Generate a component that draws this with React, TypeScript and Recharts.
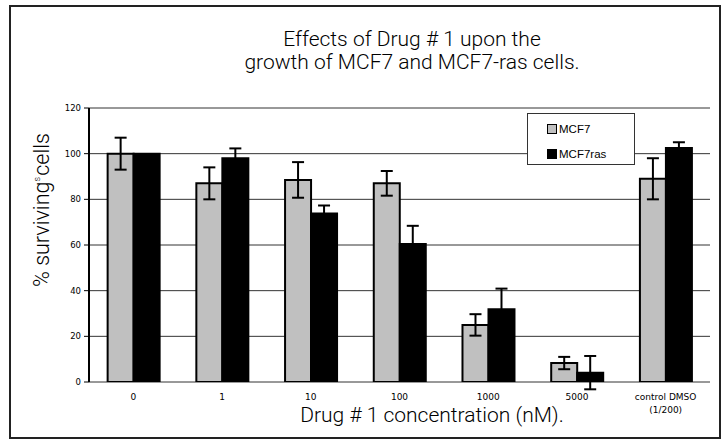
import React from "react"
import { Bar, BarChart, CartesianGrid, ErrorBar, Legend, XAxis, YAxis } from "recharts"

const categories = ["0", "1", "10", "100", "1000", "5000", "control DMSO\n(1/200)"]
const mcf7 = [100, 87, 88.5, 87, 25, 8.3, 89]
const mcf7Err = [7, 7, 7.8, 5.4, 4.7, 2.7, 9]
const mcf7ras = [100, 98, 73.8, 60.4, 31.9, 4.1, 102.5]
const mcf7rasErr = [0, 4.3, 3.5, 8, 9, 7.3, 2.5]
const yTicks = [0, 20, 40, 60, 80, 100, 120]
const boundaryTicks = [0, 1, 2, 3, 4, 5, 6, 7]

const data = categories.map((name, i) => ({
  name,
  mcf7: mcf7[i],
  mcf7Err: mcf7Err[i],
  mcf7ras: mcf7ras[i],
  mcf7rasErr: mcf7rasErr[i],
}))

const tickFont = "'DejaVu Sans', sans-serif"
const titleFont = "Roboto, 'Liberation Sans', sans-serif"

function CategoryTick(props: any) {
  const { x, y, payload } = props
  const lines = String(payload.value).split("\n")
  return (
    <text x={x} y={y} textAnchor="middle" fontFamily={tickFont} fontSize={9} fill="#000">
      {lines.map((l, i) => (
        <tspan key={i} x={x} dy={i === 0 ? 10 : 13}>
          {l}
        </tspan>
      ))}
    </text>
  )
}

function LegendBox() {
  const items = [
    { label: "MCF7", fill: "#C0C0C0" },
    { label: "MCF7ras", fill: "#000" },
  ]
  return (
    <div
      style={{
        width: 108,
        height: 52,
        boxSizing: "border-box",
        border: "1px solid #333",
        background: "#fff",
        padding: "2px 0 0 19px",
        fontFamily: "'Liberation Sans', Arial, sans-serif",
        fontSize: 11.5,
      }}
    >
      {items.map((it) => (
        <div key={it.label} style={{ display: "flex", alignItems: "center", height: 25 }}>
          <span
            style={{
              display: "inline-block",
              width: 8,
              height: 8,
              background: it.fill,
              border: "1px solid #000",
              marginRight: 2,
            }}
          />
          {it.label}
        </div>
      ))}
    </div>
  )
}

export default function App() {
  return (
    <div style={{ position: "absolute", left: 0, top: 0, width: 728, height: 442, background: "#fff" }}>
      <div
        style={{
          position: "absolute",
          left: 9,
          top: 5,
          width: 712,
          height: 434,
          boxSizing: "border-box",
          border: "2px solid #222",
        }}
      />
      <div style={{ position: "absolute", left: 0, top: 0 }}>
        <BarChart
          width={728}
          height={442}
          data={data}
          margin={{ top: 108, right: 18, bottom: 0, left: 0 }}
          barCategoryGap="21%"
          barGap={0}
        >
          <CartesianGrid vertical={false} stroke="#333" strokeWidth={1} />
          <XAxis
            xAxisId="bound"
            type="number"
            domain={[0, 7]}
            ticks={boundaryTicks}
            allowDataOverflow
            height={0}
            axisLine={{ stroke: "#000", strokeWidth: 2 }}
            tickLine={{ stroke: "#000" }}
            tickSize={4}
            tickFormatter={() => ""}
          />
          <XAxis
            xAxisId="cat"
            dataKey="name"
            height={60}
            axisLine={false}
            tickLine={false}
            interval={0}
            tick={<CategoryTick />}
          />
          <XAxis xAxisId="top" orientation="top" height={0} tick={false} tickLine={false} axisLine={{ stroke: "#888", strokeWidth: 2 }} />
          <YAxis
            domain={[0, 120]}
            ticks={yTicks}
            allowDataOverflow
            width={89}
            axisLine={{ stroke: "#000", strokeWidth: 2 }}
            tickLine={{ stroke: "#000" }}
            tickSize={5}
            tickMargin={3}
            tick={{ fontFamily: tickFont, fontSize: 8.5, fill: "#000" }}
          />
          <YAxis yAxisId="r" orientation="right" width={0} tick={false} tickLine={false} axisLine={{ stroke: "#888", strokeWidth: 2 }} />
          <Legend
            layout="vertical"
            align="center"
            verticalAlign="middle"
            wrapperStyle={{ left: 527, top: 113, width: 108, height: 52 }}
            content={() => <LegendBox />}
          />
          <Bar xAxisId="cat" dataKey="mcf7" name="MCF7" fill="#C0C0C0" stroke="#000" strokeWidth={2} isAnimationActive={false}>
            <ErrorBar dataKey="mcf7Err" width={6} stroke="#000" strokeWidth={2} isAnimationActive={false} />
          </Bar>
          <Bar xAxisId="cat" dataKey="mcf7ras" name="MCF7ras" fill="#000" stroke="#000" strokeWidth={2} isAnimationActive={false}>
            <ErrorBar dataKey="mcf7rasErr" width={6} stroke="#000" strokeWidth={2} isAnimationActive={false} />
          </Bar>
        </BarChart>
      </div>
      <svg width={728} height={442} style={{ position: "absolute", left: 0, top: 0, pointerEvents: "none" }}>
        <text x={412} y={46} textAnchor="middle" fontFamily={titleFont} fontWeight={300} fontSize={21} fill="#000">
          Effects of Drug # 1 upon the
        </text>
        <text x={412} y={69} textAnchor="middle" fontFamily={titleFont} fontWeight={300} fontSize={21} fill="#000">
          growth of MCF7 and MCF7-ras cells.
        </text>
        <text x={432} y={422} textAnchor="middle" fontFamily={titleFont} fontWeight={300} fontSize={21} fill="#000">
          Drug # 1 concentration (nM).
        </text>
        <text
          transform="translate(49, 210) rotate(-90)"
          textAnchor="middle"
          fontFamily={titleFont}
          fontWeight={300}
          fontSize={21.5}
          fill="#000"
        >
          % surviving
          <tspan fontSize={9} dy={-9}>s</tspan>
          <tspan dy={9} dx={-4}> cells</tspan>
        </text>
      </svg>
    </div>
  )
}
